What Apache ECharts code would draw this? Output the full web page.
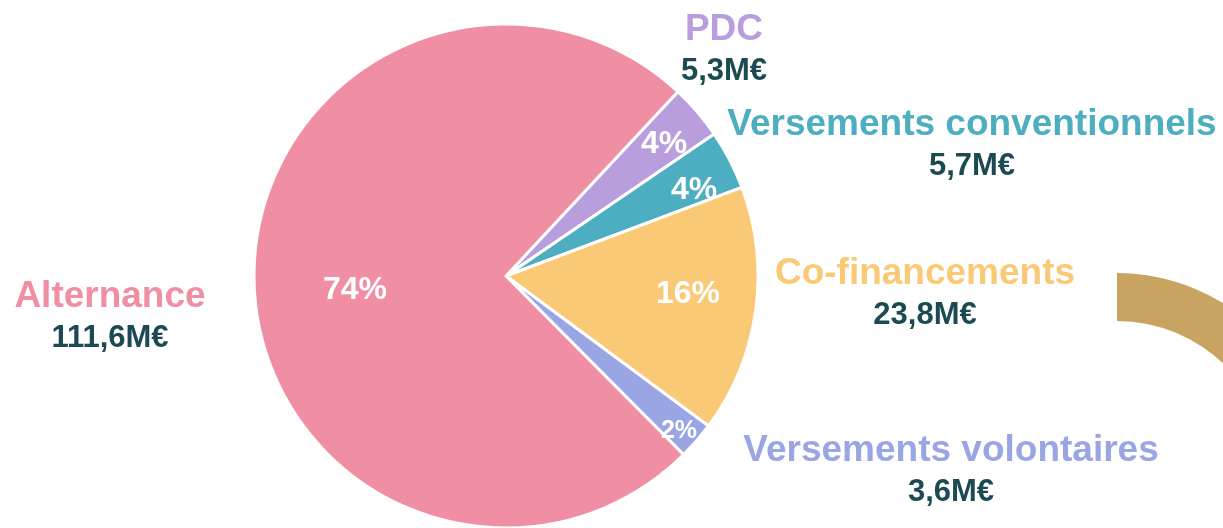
<!DOCTYPE html>
<html>
<head>
<meta charset="utf-8">
<script src="https://cdn.jsdelivr.net/npm/echarts@6/dist/echarts.min.js"></script>
<style>
html,body{margin:0;padding:0;background:#fff;}
#chart{width:1223px;height:528px;}
</style>
</head>
<body>
<div id="chart"></div>
<script>
// ---- data ----
const categories = ['PDC', 'Versements conventionnels', 'Co-financements', 'Versements volontaires', 'Alternance'];
const values = [5.3, 5.7, 23.8, 3.6, 111.6]; // M€
const ringValues = [1, 1]; // decorative partial ring at right edge (visible part only)

// ---- styles ----
const sliceColors = ['#B99EDE', '#4DAEC1', '#F9C976', '#9AA5E4', '#F08FA3'];
const ringColors = ['#C9A461', 'rgba(0,0,0,0)'];
const valueColor = '#1C4A53';
const FONT = '"Liberation Sans", Arial, sans-serif';
const CX = 506, CY = 276, R = 252;
// label anchor offsets from pie centre (layout styling)
const nameOffsets = [[218, -226], [466, -131], [419, 18], [445, 195], [-396, 41]];
const pctOffsets = [[158, -132], [188, -86], [182, 18], [173, 155], [-151, 14]];
const pctSizes = [32, 32, 32, 25, 32];

function fmt(v) { return v.toFixed(1).replace('.', ','); }

const chart = echarts.init(document.getElementById('chart'), null, {renderer: 'canvas'});

const mainData = categories.map((c, i) => ({
  name: c, value: values[i],
  itemStyle: {color: sliceColors[i]},
  label: {color: sliceColors[i]}
}));
const pctData = categories.map((c, i) => ({
  name: c, value: values[i],
  label: {fontSize: pctSizes[i]}
}));

chart.setOption({
  backgroundColor: '#ffffff',
  animation: false,
  series: [
    {
      type: 'pie',
      center: [CX, CY],
      radius: [0, R],
      startAngle: 47,
      clockwise: true,
      avoidLabelOverlap: false,
      itemStyle: {borderColor: '#ffffff', borderWidth: 3},
      label: {
        show: true,
        position: 'outside',
        fontFamily: FONT,
        fontWeight: 'bold',
        formatter: p => '{n|' + p.name + '}\n{v|' + fmt(p.value) + 'M€}',
        rich: {
          n: {fontSize: 37, fontWeight: 'bold', fontFamily: FONT, lineHeight: 42, align: 'center'},
          v: {fontSize: 31, fontWeight: 'bold', fontFamily: FONT, color: valueColor, lineHeight: 40, align: 'center'}
        }
      },
      labelLine: {show: false},
      labelLayout: p => ({
        x: CX + nameOffsets[p.dataIndex][0],
        y: CY + nameOffsets[p.dataIndex][1],
        align: 'center',
        verticalAlign: 'middle'
      }),
      emphasis: {disabled: true},
      data: mainData
    },
    {
      type: 'pie',
      center: [CX, CY],
      radius: [0, R],
      startAngle: 47,
      clockwise: true,
      silent: true,
      z: 5,
      avoidLabelOverlap: false,
      itemStyle: {color: 'rgba(0,0,0,0)', borderWidth: 0},
      label: {
        show: true,
        position: 'inside',
        color: '#ffffff',
        fontFamily: FONT,
        fontWeight: 'bold',
        fontSize: 32,
        formatter: p => Math.round(p.percent) + '%'
      },
      labelLine: {show: false},
      labelLayout: p => ({
        x: CX + pctOffsets[p.dataIndex][0],
        y: CY + pctOffsets[p.dataIndex][1],
        align: 'center',
        verticalAlign: 'middle'
      }),
      emphasis: {disabled: true},
      data: pctData
    },
    {
      type: 'pie',
      center: [1117, 475],
      radius: [154, 202],
      startAngle: 90,
      clockwise: true,
      silent: true,
      label: {show: false},
      labelLine: {show: false},
      emphasis: {disabled: true},
      data: ringValues.map((v, i) => ({value: v, itemStyle: {color: ringColors[i]}}))
    }
  ]
});
</script>
</body>
</html>
